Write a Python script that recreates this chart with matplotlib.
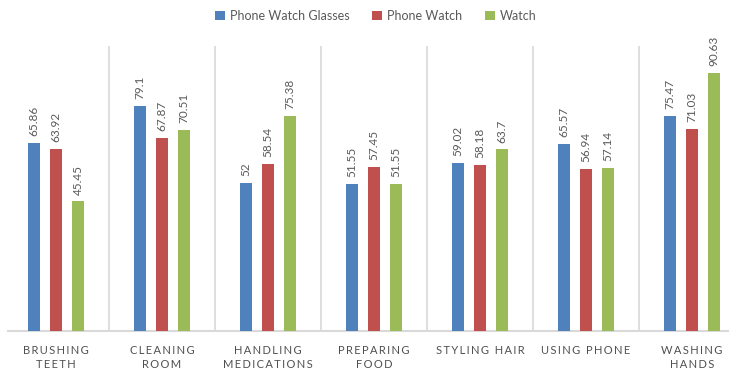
import matplotlib
matplotlib.use("Agg")
import matplotlib.pyplot as plt
import numpy as np

categories = [["Brushing", "Teeth"], ["Cleaning", "Room"], ["Handling", "Medications"],
              ["Preparing", "Food"], ["Styling Hair"], ["Using Phone"], ["Washing", "Hands"]]
series_names = ["Phone Watch Glasses", "Phone Watch", "Watch"]
phone_watch_glasses = [65.86, 79.1, 52, 51.55, 59.02, 65.57, 75.47]
phone_watch = [63.92, 67.87, 58.54, 57.45, 58.18, 56.94, 71.03]
watch = [45.45, 70.51, 75.38, 51.55, 63.7, 57.14, 90.63]
colors = ["#4F81BD", "#C0504D", "#9BBB59"]

plt.rcParams['font.family'] = ['Lato', 'DejaVu Sans']
fig = plt.figure(figsize=(7.45, 3.8), dpi=100)
ax = fig.add_axes([3/745, 1 - 331/380, 742/745, (331 - 46)/380])

x = np.arange(len(categories))
offset = 0.2075
width = 0.108
text_color = "#595959"
for j, (vals, name, c) in enumerate(zip([phone_watch_glasses, phone_watch, watch], series_names, colors)):
    pos = x + (j - 1) * offset
    ax.bar(pos, vals, width, color=c, label=name, zorder=3)
    for p, v in zip(pos, vals):
        ax.annotate(f"{v:g}", (p, v), xytext=(0, 5), textcoords="offset points",
                    rotation=90, ha="center", va="bottom", fontsize=8.5, color=text_color)

ax.set_xlim(-0.5, len(categories) - 0.5)
ax.set_ylim(0, 100)
for b in np.arange(0.5, len(categories) - 0.5, 1.0):
    ax.axvline(b, color="#D9D9D9", lw=1.2, zorder=1)
for s in ax.spines.values():
    s.set_visible(False)
ax.plot([5/742, 725/742], [0, 0], transform=ax.transAxes, color="#D9D9D9", lw=1.5, clip_on=False, zorder=2)
ax.set_yticks([])

def spaced(lines):
    out = []
    for line in lines:
        words = line.upper().split(" ")
        out.append("  ".join("\u2009".join(w) for w in words))
    return "\n".join(out)

ax.set_xticks(x)
ax.set_xticklabels([spaced(c) for c in categories], fontsize=8, color="#505050",
                   linespacing=1.4, va="top")
ax.tick_params(axis="x", length=0, pad=10)

fig.legend(loc="center", bbox_to_anchor=(376/745, 1 - 16/380), ncol=3, frameon=False,
           fontsize=9, handlelength=0.8, handleheight=0.8, handletextpad=0.4,
           columnspacing=1.8, labelcolor=text_color)

fig.savefig("out.png", dpi=100)
